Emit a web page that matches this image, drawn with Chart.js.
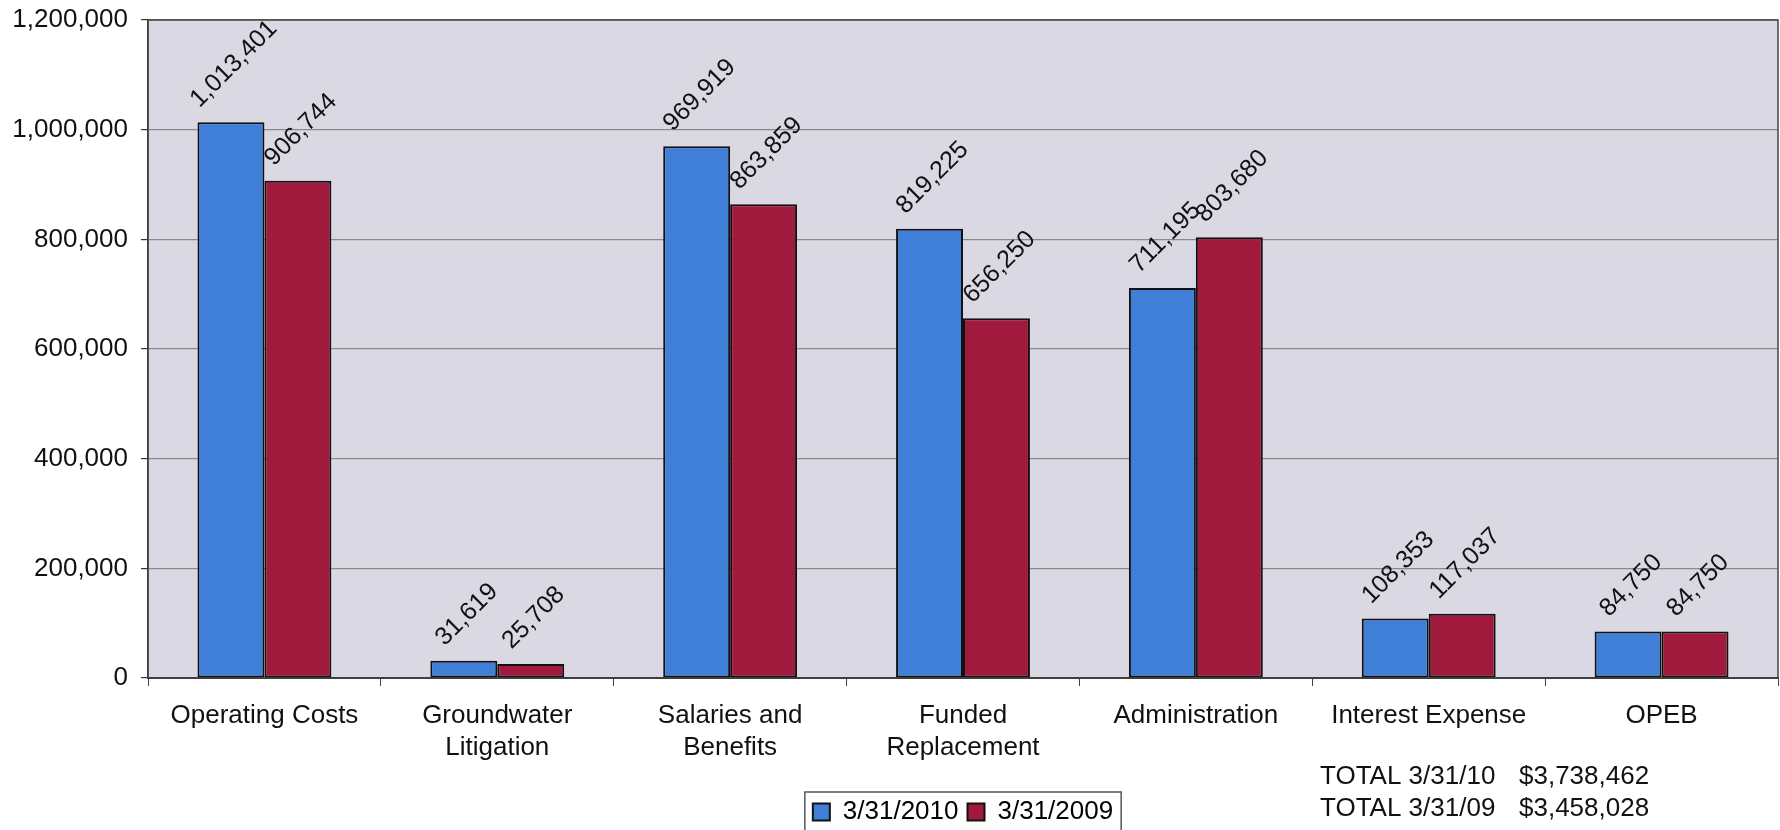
<!DOCTYPE html>
<html>
<head>
<meta charset="utf-8">
<script src="https://cdn.jsdelivr.net/npm/chart.js@4/dist/chart.umd.min.js"></script>
<style>
  html, body { margin: 0; padding: 0; background: #fff; }
  #wrap { width: 1780px; height: 830px; position: relative; }
</style>
</head>
<body>
<div id="wrap"><canvas id="chart"></canvas></div>
<script>
const categories = [
    'Operating Costs',
    ['Groundwater', 'Litigation'],
    ['Salaries and', 'Benefits'],
    ['Funded', 'Replacement'],
    'Administration',
    'Interest Expense',
    'OPEB'
];
const values2010 = [1013401, 31619, 969919, 819225, 711195, 108353, 84750];
const values2009 = [906744, 25708, 863859, 656250, 803680, 117037, 84750];
const seriesNames = ['3/31/2010', '3/31/2009'];
const yTicks = [0, 200000, 400000, 600000, 800000, 1000000, 1200000];
const totalLines = [
    ['TOTAL 3/31/10', '$3,738,462'],
    ['TOTAL 3/31/09', '$3,458,028']
];

const FONT = 'Liberation Sans, Arial, sans-serif';
const fmt = v => v.toLocaleString('en-US');

// plot background + frame
const plotArea = {
    id: 'plotArea',
    beforeDraw(chart) {
        const { ctx, chartArea: a } = chart;
        ctx.save();
        ctx.fillStyle = '#d9d8e3';
        ctx.fillRect(a.left, a.top, a.right - a.left, a.bottom - a.top);
        ctx.restore();
    },
    afterDraw(chart) {
        const { ctx, chartArea: a } = chart;
        ctx.save();
        ctx.strokeStyle = '#444';
        ctx.lineWidth = 1.5;
        ctx.strokeRect(a.left, a.top, a.right - a.left, a.bottom - a.top);
        ctx.restore();
    }
};

// rotated value labels above bars
const barLabels = {
    id: 'barLabels',
    afterDatasetsDraw(chart) {
        const { ctx } = chart;
        ctx.save();
        ctx.font = '25px ' + FONT;
        ctx.fillStyle = '#111';
        ctx.textAlign = 'center';
        ctx.textBaseline = 'middle';
        chart.data.datasets.forEach((ds, i) => {
            chart.getDatasetMeta(i).data.forEach((bar, j) => {
                const txt = fmt(ds.data[j]);
                const w = ctx.measureText(txt).width;
                const off = w / 2 * Math.SQRT1_2 + 19;
                ctx.save();
                ctx.translate(bar.x + 3, bar.y - off);
                ctx.rotate(-Math.PI / 4);
                ctx.fillText(txt, 0, 0);
                ctx.restore();
            });
        });
        ctx.restore();
    }
};

// legend frame + totals text
const extras = {
    id: 'extras',
    afterLayout(chart) {
        // nudge legend a little lower, like the original
        if (chart.legend) {
            chart.legend.top += 5;
            chart.legend.bottom += 5;
        }
    },
    afterDraw(chart) {
        const { ctx } = chart;
        const lg = chart.legend;
        ctx.save();
        if (lg && lg.legendHitBoxes.length) {
            const boxes = lg.legendHitBoxes;
            const last = boxes[boxes.length - 1];
            const x0 = boxes[0].left - 8;
            const x1 = last.left + last.width + 8;
            ctx.strokeStyle = '#555';
            ctx.lineWidth = 1.5;
            ctx.strokeRect(x0, 792, x1 - x0, 45);
        }
        ctx.font = '26px ' + FONT;
        ctx.fillStyle = '#111';
        ctx.textBaseline = 'middle';
        totalLines.forEach((ln, i) => {
            const y = 777 + i * 32;
            ctx.fillText(ln[0], 1320, y);
            ctx.fillText(ln[1], 1519, y);
        });
        ctx.restore();
    }
};

const ctx = document.getElementById('chart');
new Chart(ctx, {
    type: 'bar',
    data: {
        labels: categories,
        datasets: [{
            label: seriesNames[0],
            data: values2010,
            backgroundColor: '#3f7fd8',
            borderColor: '#111',
            borderWidth: 2,
            borderSkipped: false,
            categoryPercentage: 0.575,
            barPercentage: 1.0
        }, {
            label: seriesNames[1],
            data: values2009,
            backgroundColor: '#a01a3e',
            borderColor: '#111',
            borderWidth: 2,
            borderSkipped: false,
            categoryPercentage: 0.575,
            barPercentage: 1.0
        }]
    },
    options: {
        responsive: true,
        maintainAspectRatio: false,
        animation: false,
        layout: { padding: { top: 20, right: 2, left: 0, bottom: 0 } },
        plugins: {
            tooltip: { enabled: false },
            legend: {
                position: 'bottom',
                fullSize: false,
                labels: {
                    font: { family: FONT, size: 26 },
                    color: '#111',
                    boxWidth: 17,
                    boxHeight: 17,
                    padding: 9,
                    generateLabels(chart) {
                        return chart.data.datasets.map((ds, i) => ({
                            text: ds.label,
                            fillStyle: ds.backgroundColor,
                            strokeStyle: '#111',
                            lineWidth: 2,
                            datasetIndex: i
                        }));
                    }
                }
            }
        },
        scales: {
            x: {
                grid: {
                    offset: true,
                    drawOnChartArea: false,
                    color: '#444',
                    tickLength: 8
                },
                border: { color: '#333', width: 2 },
                ticks: {
                    font: { family: FONT, size: 26, lineHeight: 1.22 },
                    color: '#111',
                    maxRotation: 0,
                    autoSkip: false,
                    padding: 14
                },
                afterFit(scale) { scale.height = 107; }
            },
            y: {
                min: 0,
                max: 1200000,
                afterBuildTicks(scale) {
                    scale.ticks = yTicks.map(v => ({ value: v }));
                },
                grid: { color: '#8a8a8a', lineWidth: 1.2, tickLength: 7, tickColor: '#333' },
                border: { color: '#333', width: 1.5 },
                ticks: {
                    font: { family: FONT, size: 26 },
                    color: '#111',
                    padding: 13,
                    callback: v => fmt(v)
                },
                afterFit(scale) {
                    scale.width = 148;
                    scale.paddingTop = 0;
                    scale.paddingBottom = 0;
                }
            }
        }
    },
    plugins: [plotArea, barLabels, extras]
});
</script>
</body>
</html>
